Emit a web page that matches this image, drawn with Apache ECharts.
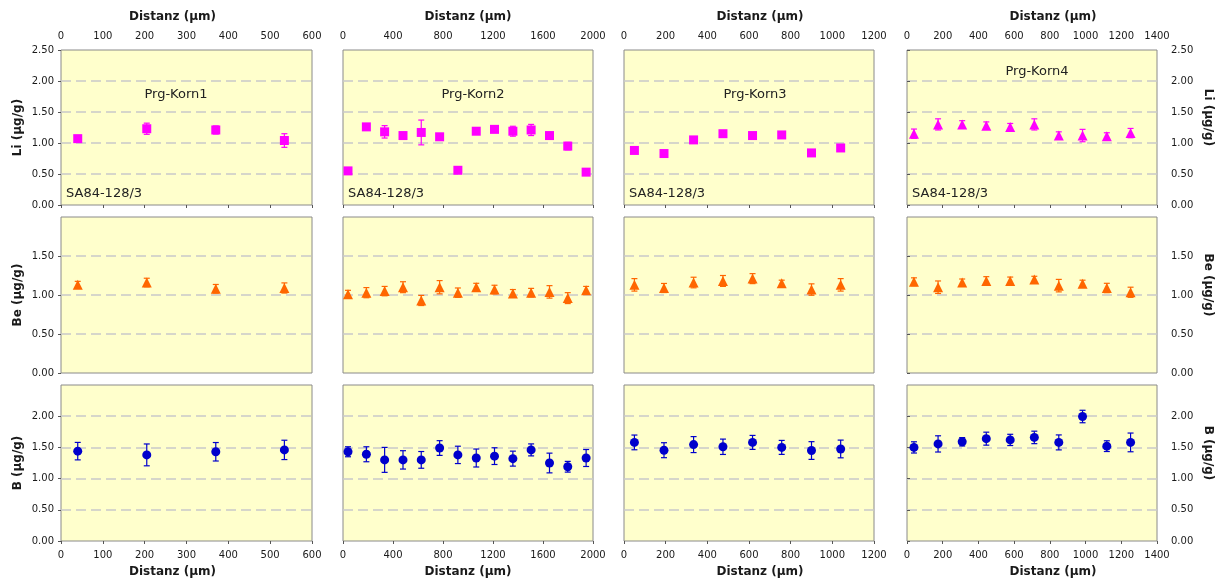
<!DOCTYPE html>
<html>
<head>
<meta charset="utf-8">
<script src="https://cdn.jsdelivr.net/npm/echarts@6/dist/echarts.min.js"></script>
<style>
  html, body { margin: 0; padding: 0; background: #fff; }
  #chart { width: 1221px; height: 583px; }
</style>
</head>
<body>
<div id="chart"></div>
<script>
// Distance profiles (µm) and concentrations (µg/g) with 1σ error, per grain
const grainNames = ['Prg-Korn1', 'Prg-Korn2', 'Prg-Korn3', 'Prg-Korn4'];
const sampleName = 'SA84-128/3';

const distKorn1 = [40, 205, 370, 534];
const liKorn1 = [1.07, 1.23, 1.21, 1.04];
const liErrKorn1 = [0.03, 0.09, 0.065, 0.11];
const beKorn1 = [1.13, 1.16, 1.08, 1.09];
const beErrKorn1 = [0.045, 0.055, 0.055, 0.065];
const bKorn1 = [1.44, 1.38, 1.43, 1.46];
const bErrKorn1 = [0.14, 0.175, 0.148, 0.155];

const distKorn2 = [40, 187, 333, 480, 626, 773, 919, 1066, 1212, 1359, 1505, 1652, 1798, 1945];
const liKorn2 = [0.55, 1.26, 1.18, 1.12, 1.17, 1.10, 0.56, 1.19, 1.22, 1.19, 1.21, 1.12, 0.95, 0.53];
const liErrKorn2 = [0.02, 0.04, 0.10, 0.05, 0.20, 0.03, 0.02, 0.03, 0.04, 0.08, 0.09, 0.05, 0.06, 0.02];
const beKorn2 = [1.01, 1.03, 1.05, 1.10, 0.93, 1.10, 1.03, 1.10, 1.07, 1.02, 1.03, 1.04, 0.96, 1.06];
const beErrKorn2 = [0.05, 0.065, 0.06, 0.07, 0.065, 0.085, 0.06, 0.05, 0.055, 0.05, 0.055, 0.08, 0.07, 0.05];
const bKorn2 = [1.43, 1.39, 1.30, 1.30, 1.30, 1.49, 1.38, 1.33, 1.36, 1.32, 1.46, 1.25, 1.19, 1.33];
const bErrKorn2 = [0.08, 0.12, 0.20, 0.147, 0.134, 0.118, 0.139, 0.144, 0.134, 0.12, 0.096, 0.158, 0.086, 0.136];

const distKorn3 = [50, 192, 334, 475, 617, 757, 900, 1040];
const liKorn3 = [0.88, 0.83, 1.05, 1.15, 1.12, 1.13, 0.84, 0.92];
const liErrKorn3 = [0.04, 0.03, 0.04, 0.03, 0.04, 0.03, 0.04, 0.04];
const beKorn3 = [1.13, 1.09, 1.16, 1.18, 1.21, 1.15, 1.07, 1.13];
const beErrKorn3 = [0.08, 0.058, 0.068, 0.07, 0.064, 0.04, 0.073, 0.08];
const bKorn3 = [1.58, 1.455, 1.545, 1.51, 1.58, 1.50, 1.45, 1.475];
const bErrKorn3 = [0.118, 0.12, 0.128, 0.123, 0.112, 0.112, 0.142, 0.142];

const distKorn4 = [39, 174, 309, 444, 578, 713, 850, 983, 1119, 1252];
const liKorn4 = [1.15, 1.30, 1.30, 1.28, 1.26, 1.30, 1.12, 1.12, 1.11, 1.16];
const liErrKorn4 = [0.075, 0.09, 0.06, 0.06, 0.055, 0.09, 0.06, 0.10, 0.055, 0.075];
const beKorn4 = [1.17, 1.10, 1.16, 1.18, 1.18, 1.20, 1.12, 1.145, 1.09, 1.035];
const beErrKorn4 = [0.05, 0.08, 0.045, 0.055, 0.05, 0.04, 0.08, 0.045, 0.06, 0.065];
const bKorn4 = [1.50, 1.556, 1.59, 1.64, 1.62, 1.66, 1.58, 1.995, 1.52, 1.58];
const bErrKorn4 = [0.09, 0.13, 0.067, 0.104, 0.09, 0.10, 0.12, 0.10, 0.086, 0.15];

// x-axis ranges per grain
const distMax = [600, 2000, 1200, 1400];
const distStep = [100, 400, 200, 200];

// element rows: axis titles and scales
const elementTitles = ['Li (µg/g)', 'Be (µg/g)', 'B (µg/g)'];
const elementMax = [2.5, 2.0, 2.5];
const elementStep = 0.5;

const grains = [
  { dist: distKorn1, rows: [[liKorn1, liErrKorn1], [beKorn1, beErrKorn1], [bKorn1, bErrKorn1]] },
  { dist: distKorn2, rows: [[liKorn2, liErrKorn2], [beKorn2, beErrKorn2], [bKorn2, bErrKorn2]] },
  { dist: distKorn3, rows: [[liKorn3, liErrKorn3], [beKorn3, beErrKorn3], [bKorn3, bErrKorn3]] },
  { dist: distKorn4, rows: [[liKorn4, liErrKorn4], [beKorn4, beErrKorn4], [bKorn4, bErrKorn4]] }
];

// layout and styling
const colLeft = [61, 343, 624, 907];
const colWidth = [251, 250, 250, 250];
const rowTop = [50, 217, 385];
const rowHeight = [155, 156, 156];
const rowColors = ['#FF00FF', '#FF6600', '#0000CC'];
// horizontal shift of each column's "Distanz" title (padding left/right)
const distTitlePad = [[0, 28, 0, 0], [0, 0, 0, 0], [0, 0, 0, 22], [0, 0, 0, 42]];
const FONT = 'DejaVu Sans';
const TEXT = '#1a1a1a';

function symbolFor(row, col) {
  if (row === 0) return col === 3 ? 'triangle' : 'rect';
  if (row === 1) return 'triangle';
  return 'circle';
}

function errorBarItem(params, api) {
  const x = api.value(0), y = api.value(1), e = api.value(2);
  const hi = api.coord([x, y + e]);
  const lo = api.coord([x, y - e]);
  const cap = 3;
  const style = { stroke: api.visual('color'), lineWidth: 1.2 };
  return {
    type: 'group',
    children: [
      { type: 'line', shape: { x1: hi[0], y1: hi[1], x2: lo[0], y2: lo[1] }, style },
      { type: 'line', shape: { x1: hi[0] - cap, y1: hi[1], x2: hi[0] + cap, y2: hi[1] }, style },
      { type: 'line', shape: { x1: lo[0] - cap, y1: lo[1], x2: lo[0] + cap, y2: lo[1] }, style }
    ]
  };
}

const grid = [], xAxis = [], yAxis = [], series = [];
let idx = 0;
for (let r = 0; r < 3; r++) {
  for (let c = 0; c < 4; c++) {
    grid.push({
      left: colLeft[c], top: rowTop[r], width: colWidth[c], height: rowHeight[r],
      show: true, backgroundColor: '#FFFFCC', borderColor: '#8a8a8a', borderWidth: 1
    });
    const hasXLabels = r !== 1;
    xAxis.push({
      type: 'value', gridIndex: idx, min: 0, max: distMax[c], interval: distStep[c],
      position: r === 0 ? 'top' : 'bottom',
      name: hasXLabels ? 'Distanz (µm)' : '',
      nameLocation: 'middle',
      nameGap: r === 0 ? 27 : 25,
      nameTextStyle: {
        fontFamily: FONT, fontWeight: 'bold', fontSize: 12, color: TEXT,
        padding: distTitlePad[c]
      },
      axisLine: { show: false },
      axisTick: { show: hasXLabels, inside: r === 0, length: 3, lineStyle: { color: '#555' } },
      axisLabel: {
        show: hasXLabels, margin: 9, fontFamily: FONT, fontSize: 10, color: TEXT,
        formatter: v => String(v)
      },
      splitLine: { show: false }
    });
    const side = c === 0 ? 'left' : 'right';
    const hasYLabels = c === 0 || c === 3;
    yAxis.push({
      type: 'value', gridIndex: idx, min: 0, max: elementMax[r], interval: elementStep,
      position: side,
      name: hasYLabels ? elementTitles[r] : '',
      nameLocation: 'middle',
      nameGap: c === 0 ? 37 : 45,
      nameRotate: c === 3 ? -90 : 90,
      nameTextStyle: {
        fontFamily: FONT, fontWeight: 'bold', fontSize: 12, color: TEXT,
        padding: c === 3 ? [0, 20, 0, 0] : 0
      },
      axisLine: { show: false },
      axisTick: { show: hasYLabels, length: 3, lineStyle: { color: '#555' } },
      axisLabel: {
        show: hasYLabels, margin: c === 0 ? 7 : 14,
        fontFamily: FONT, fontSize: 10, color: TEXT,
        showMaxLabel: r === 0,
        formatter: v => v.toFixed(2)
      },
      splitLine: {
        show: true, showMinLine: false, showMaxLine: false,
        lineStyle: { color: '#c9c9c9', width: 1.5, type: [10, 5] }
      }
    });

    const g = grains[c];
    const vals = g.rows[r][0], errs = g.rows[r][1];
    const pts = g.dist.map((d, i) => [d, vals[i], errs[i]]);
    series.push({
      type: 'custom', xAxisIndex: idx, yAxisIndex: idx, z: 2,
      renderItem: errorBarItem,
      itemStyle: { color: rowColors[r] },
      encode: { x: 0, y: 1 },
      data: pts,
      silent: true
    });
    series.push({
      type: 'scatter', xAxisIndex: idx, yAxisIndex: idx, z: 3,
      symbol: symbolFor(r, c),
      symbolSize: symbolFor(r, c) === 'triangle' ? 10 : 9,
      itemStyle: { color: rowColors[r], opacity: 1 },
      data: pts.map(p => [p[0], p[1]]),
      silent: true
    });
    idx++;
  }
}

// grain names and sample label inside the Li panels
const grainLabelPos = [[176, 95], [473, 95], [755, 95], [1037, 72]];
const graphic = [];
for (let c = 0; c < 4; c++) {
  graphic.push({
    type: 'text', x: grainLabelPos[c][0], y: grainLabelPos[c][1],
    style: { text: grainNames[c], font: '13px "DejaVu Sans"', fill: '#222',
             textAlign: 'center', textVerticalAlign: 'middle' },
    z: 10
  });
  graphic.push({
    type: 'text', x: colLeft[c] + 5, y: 194,
    style: { text: sampleName, font: '13px "DejaVu Sans"', fill: '#222',
             textAlign: 'left', textVerticalAlign: 'middle' },
    z: 10
  });
}

const chart = echarts.init(document.getElementById('chart'), null, { renderer: 'canvas' });
chart.setOption({
  animation: false,
  backgroundColor: '#ffffff',
  grid, xAxis, yAxis, series, graphic
});
</script>
</body>
</html>
